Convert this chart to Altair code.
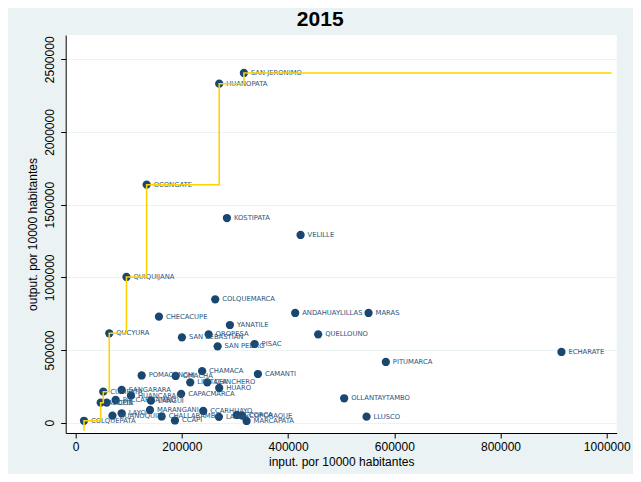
import altair as alt
import pandas as pd

# ---- data ----
names = [
    "SAN JERONIMO", "HUANOPATA", "OCONGATE", "KOSTIPATA", "VELILLE", "QUIQUIJANA",
    "COLQUEMARCA", "CHECACUPE", "ANDAHUAYLILLAS", "MARAS", "YANATILE", "QUELLOUNO",
    "QUCYURA", "SAN SEBASTIAN", "OROPESA", "SAN PEDRO", "PISAC", "PITUMARCA",
    "ECHARATE", "CAMANTI", "CHAMACA", "POMACANCHI", "OMACHA", "LIVITACA",
    "CHINCHERO", "HUARO", "CAPACMARCA", "OLLANTAYTAMBO", "LLUSCO", "MARANGANI",
    "CCARHUAYO", "CHALLABAMBA", "CCAPI", "LAMAY", "CCORCA", "COPORAQUE",
    "MARCAPATA", "COLQUEPATA", "HUANOQUITE", "LAYO", "ACOPIA", "ACOS",
    "PACCARITAMBO", "CUSIPATA", "SANGARARA", "HUANCARANI", "LANGUI",
]
inputs = [
    316780, 270290, 133640, 284780, 423500, 95620,
    262760, 156790, 413340, 551490, 290420, 456630,
    63250, 200090, 250340, 267280, 336910, 584060,
    914760, 343130, 238100, 124230, 188220, 215700,
    247700, 270290, 198580, 505570, 547730, 139850,
    240170, 161870, 186910, 269720, 303600, 313580,
    321860, 15620, 69260, 86590, 47060, 58350,
    75290, 51950, 86590, 104090, 141730,
]
outputs = [
    2405800, 2332150, 1637320, 1408200, 1291300, 1002350,
    848900, 729200, 754700, 754700, 672100, 608150,
    615000, 587500, 608150, 525600, 541400, 417600,
    486400, 335000, 354300, 324700, 321300, 277900,
    277900, 238700, 198800, 167900, 41300, 87400,
    80500, 42650, 15100, 40600, 53000, 48200,
    11700, 13100, 48200, 64700, 137600, 137600,
    156200, 213300, 225000, 185700, 151350,
]

# best-practice (FDH) frontier units, in order of input
frontier = ["COLQUEPATA", "ACOPIA", "CUSIPATA", "QUCYURA", "QUIQUIJANA",
            "OCONGATE", "HUANOPATA", "SAN JERONIMO"]
frontier_start_output = -55000
frontier_end_input = 1009000

x_ticks = [0, 200000, 400000, 600000, 800000, 1000000]
y_ticks = [0, 500000, 1000000, 1500000, 2000000, 2500000]

# ---- tables ----
pts = pd.DataFrame({"name": names, "input": inputs, "output": outputs})
lookup = {n: (i, o) for n, i, o in zip(names, inputs, outputs)}
fx = [lookup[n][0] for n in frontier]
fy = [lookup[n][1] for n in frontier]
step = pd.DataFrame({
    "input": [fx[0]] + fx + [frontier_end_input],
    "output": [frontier_start_output] + fy + [fy[-1]],
})
step["i"] = range(len(step))

FONT = "Liberation Sans"
NAVY = "#1a476f"

xenc = alt.X("input:Q", title="input. por 10000 habitantes",
             scale=alt.Scale(domain=[-18800, 1018800], nice=False, zero=False),
             axis=alt.Axis(values=x_ticks, format="d", grid=False, tickSize=5,
                           labelPadding=3, titlePadding=4, labelFlush=False,
                           labelOverlap=False))
yenc = alt.Y("output:Q", title="output. por 10000 habitantes",
             scale=alt.Scale(domain=[-70900, 2667200], nice=False, zero=False),
             axis=alt.Axis(values=y_ticks, format="d", grid=True, tickSize=5,
                           labelAngle=270, labelAlign="center", labelBaseline="bottom",
                           labelPadding=4, titlePadding=4, labelFlush=False,
                           labelOverlap=False))

dots = alt.Chart(pts).mark_circle(size=68, color=NAVY, opacity=1).encode(x=xenc, y=yenc)
labels = alt.Chart(pts).mark_text(align="left", baseline="middle", dx=7, fontSize=6.8,
                                  color="#2a5580", font="DejaVu Sans").encode(
    x="input:Q", y="output:Q", text="name:N")
line = alt.Chart(step).mark_line(interpolate="step-after", color="#ffd200",
                                 strokeWidth=1.6).encode(
    x="input:Q", y="output:Q", order="i:Q")

chart = (alt.layer(dots, labels, line)
         .properties(width=551, height=398,
                     title=alt.TitleParams("2015", fontSize=21, fontWeight="bold",
                                           font=FONT, color="black", anchor="middle",
                                           dx=-21, offset=5),
                     autosize=alt.AutoSizeParams(type="none"),
                     padding={"left": 57.7, "top": 27, "right": 16.3, "bottom": 41},
                     background="#eaf2f3")
         .configure_view(fill="white", stroke=None)
         .configure_axis(labelFont=FONT, titleFont=FONT, labelFontSize=12,
                         titleFontSize=12, titleFontWeight="normal",
                         labelColor="black", titleColor="black",
                         domainColor="black", tickColor="black",
                         gridColor="#eaf2f3", gridWidth=1.2,
                         domainWidth=1, tickWidth=1))

chart.save("out.html", embed_options={"renderer": "svg", "actions": False})
